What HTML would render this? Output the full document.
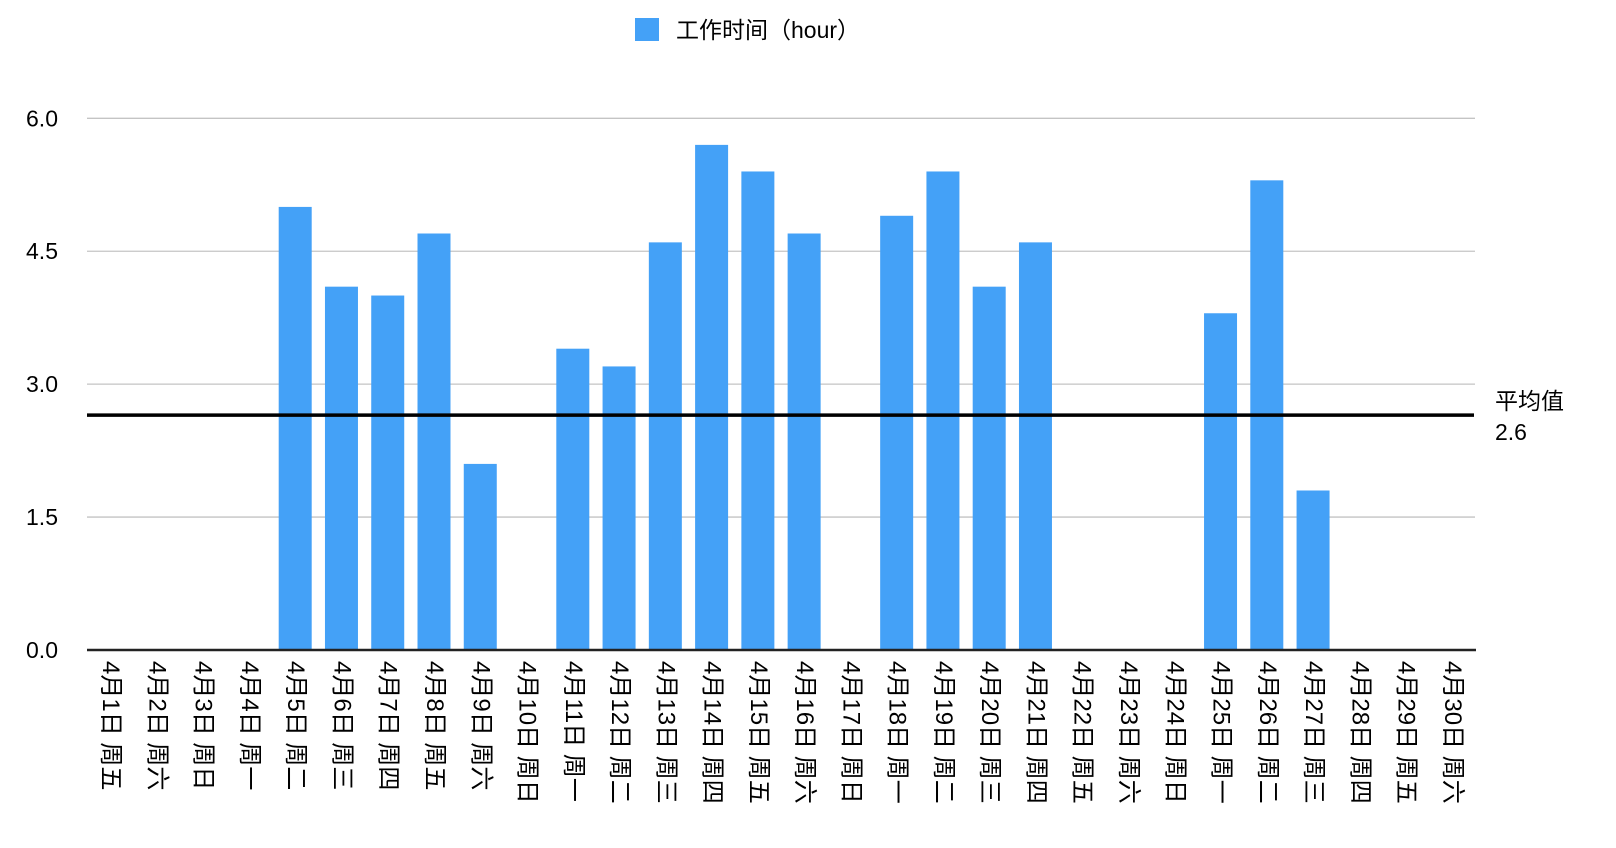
<!DOCTYPE html>
<html><head><meta charset="utf-8">
<style>
body{margin:0;background:#fff;width:1616px;height:848px;overflow:hidden;font-family:"Liberation Sans","Noto Sans CJK SC",sans-serif;}
#c{position:relative;width:1616px;height:848px;}
.xl{position:absolute;top:661px;height:180px;writing-mode:vertical-rl;text-orientation:sideways;font-size:24px;line-height:26px;color:#000;white-space:pre;}
</style></head><body>
<div id="c">
<svg id="s" width="1616" height="848" style="position:absolute;left:0;top:0">
<g>
<rect x="635" y="18" width="24" height="23" fill="#44a1f7"></rect>
<text x="676" y="38" font-size="23" font-family="Liberation Sans, Noto Sans CJK SC, sans-serif">工作时间（hour）</text>
</g>
</svg>
</div>
<script>
const categories=[];
const weekdays=["周五","周六","周日","周一","周二","周三","周四"];
for(let i=1;i<=30;i++){categories.push("4月"+i+"日 "+weekdays[(i-1)%7]);}
const hours=[0,0,0,0,5.0,4.1,4.0,4.7,2.1,0,3.4,3.2,4.6,5.7,5.4,4.7,0,4.9,5.4,4.1,4.6,0,0,0,3.8,5.3,1.8,0,0,0];
const yTicks=[0,1.5,3.0,4.5,6.0];
const yTickLabels=["0.0","1.5","3.0","4.5","6.0"];
const average=2.65;
const averageLabel=["平均值","2.6"];

const L=87,R=1475,T=118.3,B=650,YMAX=6;
const slot=(R-L)/categories.length;
const y=v=>B-(v/YMAX)*(B-T);
const x=i=>L+slot*i;
const NS="http://www.w3.org/2000/svg";
const svg=document.getElementById('s');
const c=document.getElementById('c');
function mk(t,a){const e=document.createElementNS(NS,t);for(const k in a)e.setAttribute(k,a[k]);svg.appendChild(e);return e;}
yTicks.forEach((t,i)=>{
  if(t>0){const g=mk('line',{x1:L,x2:R,y1:y(t),y2:y(t),stroke:'#c4c4c4','stroke-width':1.3});
  
  }
  const tx=mk('text',{x:58,y:y(t)+8,'text-anchor':'end','font-size':23,'font-family':'Liberation Sans, sans-serif'});
  tx.textContent=yTickLabels[i];
  
  
});
hours.forEach((v,i)=>{
  if(v<=0)return;
  const w=33;
  const r=mk('rect',{x:x(i)+slot/2-w/2,y:y(v),width:w,height:B-y(v),fill:'#44a1f7'});
  
  
});
const base=mk('line',{x1:L,x2:R+1,y1:B,y2:B,stroke:'#222','stroke-width':2.5});


const av=mk('line',{x1:L,x2:R-1,y1:y(average),y2:y(average),stroke:'#000','stroke-width':3.5});


averageLabel.forEach((s,i)=>{
  const t=mk('text',{x:1495,y:y(average)-6+i*31,'font-size':23,'font-family':'Liberation Sans, Noto Sans CJK SC, sans-serif'});
  t.textContent=s;
  
  
});
categories.forEach((s,i)=>{
  const d=document.createElement('div');
  d.className='xl';
  d.textContent=s;
  d.style.left=(x(i)+slot/2-13)+'px';
  
  
  c.appendChild(d);
});
</script>
</body></html>
